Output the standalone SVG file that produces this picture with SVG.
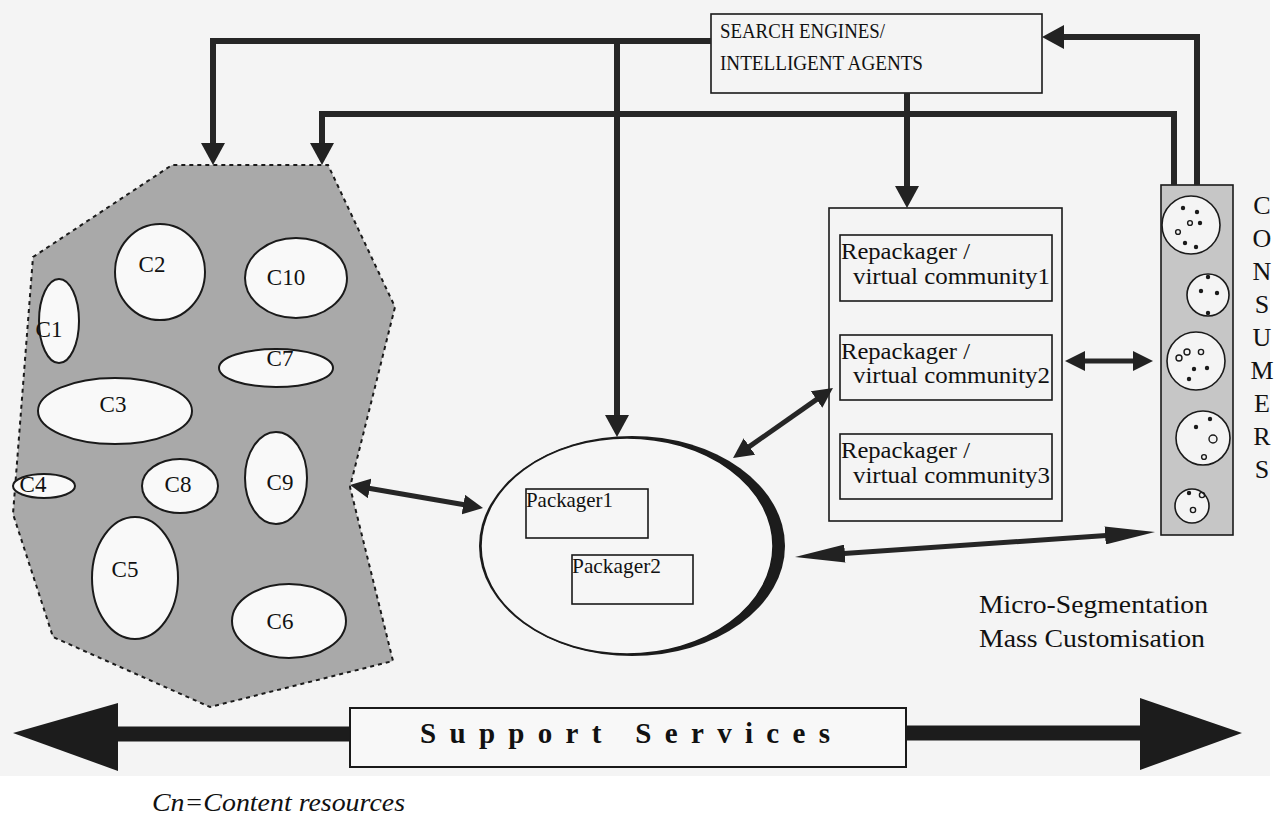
<svg xmlns="http://www.w3.org/2000/svg" width="1282" height="819" viewBox="0 0 1282 819">
  <style>
    text { font-family: "Liberation Serif", serif; fill: #111; }
    .conn { fill: none; stroke: #262626; stroke-width: 6; stroke-linejoin: miter; }
    .conn-thin { fill: none; stroke: #262626; stroke-width: 5; }
    .box { fill: none; stroke: #1a1a1a; stroke-width: 1.6; }
    .res { fill: #f9f9f9; stroke: #1a1a1a; stroke-width: 2; }
    .cust { fill: #f4f4f4; stroke: #1a1a1a; stroke-width: 1.6; }
    .dot { fill: #1a1a1a; }
    .ring { fill: none; stroke: #1a1a1a; stroke-width: 1.4; }
  </style>
  <defs>
    <marker id="ah" markerUnits="userSpaceOnUse" viewBox="0 0 22 24" markerWidth="22" markerHeight="24" refX="1" refY="12" orient="auto-start-reverse">
      <path d="M0,0 L22,12 L0,24 Z" fill="#222"/>
    </marker>
    <marker id="ah2" markerUnits="userSpaceOnUse" viewBox="0 0 20 20" markerWidth="20" markerHeight="20" refX="1" refY="10" orient="auto-start-reverse">
      <path d="M0,0 L20,10 L0,20 Z" fill="#222"/>
    </marker>
    <marker id="ahl" markerUnits="userSpaceOnUse" viewBox="0 0 50 18" markerWidth="50" markerHeight="18" refX="1" refY="9" orient="auto-start-reverse">
      <path d="M0,0 L50,9 L0,18 Z" fill="#222"/>
    </marker>
  </defs>

  <!-- paper -->
  <rect x="0" y="0" width="1282" height="819" fill="#ffffff"/>
  <rect x="0" y="0" width="1270" height="776" fill="#f4f4f4"/>

  <g font-family="Liberation Serif, serif">
  <!-- content resource pool -->
  <g id="content-pool">
    <polygon points="33,257 172,165 328,165 395,307 350,487 393,661 210,707 53,637 13,514"
             fill="#a9a9a9" stroke="#1a1a1a" stroke-width="2" stroke-dasharray="4 4"/>
    <g id="c1"><ellipse class="res" cx="59" cy="321" rx="20" ry="42"/><text x="49" y="337" font-size="23" text-anchor="middle">C1</text></g>
    <g id="c2"><ellipse class="res" cx="160" cy="272" rx="45" ry="48"/><text x="152" y="272" font-size="23" text-anchor="middle">C2</text></g>
    <g id="c10"><ellipse class="res" cx="296" cy="278" rx="51" ry="40"/><text x="286" y="285" font-size="23" text-anchor="middle">C10</text></g>
    <g id="c7"><ellipse class="res" cx="276" cy="368" rx="57" ry="19"/><text x="280" y="366" font-size="23" text-anchor="middle">C7</text></g>
    <g id="c3"><ellipse class="res" cx="115" cy="411" rx="77" ry="33"/><text x="113" y="412" font-size="23" text-anchor="middle">C3</text></g>
    <g id="c4"><ellipse class="res" cx="44" cy="486" rx="31" ry="12"/><text x="33" y="492" font-size="23" text-anchor="middle">C4</text></g>
    <g id="c8"><ellipse class="res" cx="180" cy="486" rx="38" ry="27"/><text x="178" y="492" font-size="23" text-anchor="middle">C8</text></g>
    <g id="c9"><ellipse class="res" cx="276" cy="478" rx="31" ry="46"/><text x="280" y="490" font-size="23" text-anchor="middle">C9</text></g>
    <g id="c5"><ellipse class="res" cx="135" cy="578" rx="43" ry="61"/><text x="125" y="577" font-size="23" text-anchor="middle">C5</text></g>
    <g id="c6"><ellipse class="res" cx="289" cy="621" rx="57" ry="37"/><text x="280" y="629" font-size="23" text-anchor="middle">C6</text></g>
  </g>

  <!-- search engines -->
  <g id="search-engines">
    <rect class="box" x="711" y="14" width="331" height="79" fill="#f7f7f7" stroke-width="2"/>
    <text x="720" y="38" font-size="20" textLength="165" lengthAdjust="spacingAndGlyphs">SEARCH ENGINES/</text>
    <text x="720" y="70" font-size="20" textLength="203" lengthAdjust="spacingAndGlyphs">INTELLIGENT AGENTS</text>
  </g>

  <!-- packagers -->
  <g id="packagers">
    <ellipse cx="632" cy="546" rx="153" ry="110" fill="#1c1c1c"/>
    <ellipse cx="627" cy="546" rx="146" ry="108" fill="#f6f6f6" stroke="#1a1a1a" stroke-width="1.5"/>
    <g id="packager1">
      <rect class="box" x="526" y="489" width="122" height="49"/>
      <text x="526" y="507" font-size="21" textLength="87" lengthAdjust="spacingAndGlyphs">Packager1</text>
    </g>
    <g id="packager2">
      <rect class="box" x="572" y="555" width="121" height="49"/>
      <text x="572" y="573" font-size="21" textLength="89" lengthAdjust="spacingAndGlyphs">Packager2</text>
    </g>
  </g>

  <!-- repackagers -->
  <g id="repackagers">
    <rect class="box" x="829" y="208" width="233" height="313"/>
    <g id="repackager1">
      <rect class="box" x="840" y="235" width="212" height="66"/>
      <text x="841" y="259" font-size="24" textLength="129" lengthAdjust="spacingAndGlyphs">Repackager /</text>
      <text x="853" y="284" font-size="24" textLength="197" lengthAdjust="spacingAndGlyphs">virtual community1</text>
    </g>
    <g id="repackager2">
      <rect class="box" x="840" y="335" width="212" height="65"/>
      <text x="841" y="359" font-size="24" textLength="129" lengthAdjust="spacingAndGlyphs">Repackager /</text>
      <text x="853" y="383" font-size="24" textLength="197" lengthAdjust="spacingAndGlyphs">virtual community2</text>
    </g>
    <g id="repackager3">
      <rect class="box" x="840" y="434" width="212" height="65"/>
      <text x="841" y="458" font-size="24" textLength="129" lengthAdjust="spacingAndGlyphs">Repackager /</text>
      <text x="853" y="483" font-size="24" textLength="197" lengthAdjust="spacingAndGlyphs">virtual community3</text>
    </g>
  </g>

  <!-- consumers -->
  <g id="consumers">
    <rect x="1161" y="185" width="72" height="350" fill="#c6c6c6" stroke="#1a1a1a" stroke-width="1.6"/>
    <g id="segment1">
      <circle class="cust" cx="1191" cy="225" r="29"/>
      <circle class="dot" cx="1183" cy="208" r="2.2"/><circle class="dot" cx="1197" cy="212" r="2.2"/>
      <circle class="ring" cx="1190" cy="223" r="2.4"/><circle class="dot" cx="1200" cy="223" r="2.2"/>
      <circle class="ring" cx="1178" cy="232" r="2.4"/><circle class="dot" cx="1185" cy="243" r="2.2"/>
      <circle class="dot" cx="1196" cy="247" r="2.2"/>
    </g>
    <g id="segment2">
      <circle class="cust" cx="1208" cy="295" r="21"/>
      <circle class="dot" cx="1208" cy="277" r="2.2"/><circle class="dot" cx="1201" cy="291" r="2.2"/>
      <circle class="dot" cx="1217" cy="293" r="2.2"/><circle class="dot" cx="1208" cy="313" r="2.2"/>
    </g>
    <g id="segment3">
      <circle class="cust" cx="1196" cy="361" r="29"/>
      <circle class="ring" cx="1179" cy="358" r="3"/><circle class="ring" cx="1187" cy="352" r="3"/>
      <circle class="ring" cx="1201" cy="352" r="2.6"/><circle class="dot" cx="1194" cy="369" r="2.2"/>
      <circle class="dot" cx="1207" cy="368" r="2.2"/><circle class="dot" cx="1189" cy="379" r="2.2"/>
    </g>
    <g id="segment4">
      <circle class="cust" cx="1203" cy="438" r="27"/>
      <circle class="dot" cx="1210" cy="419" r="2.2"/><circle class="dot" cx="1196" cy="427" r="2.2"/>
      <circle class="ring" cx="1213" cy="439" r="4"/><circle class="ring" cx="1204" cy="457" r="2.4"/>
    </g>
    <g id="segment5">
      <circle class="cust" cx="1192" cy="506" r="17"/>
      <circle class="dot" cx="1189" cy="493" r="2.2"/><circle class="ring" cx="1202" cy="495" r="2.6"/>
      <circle class="ring" cx="1193" cy="510" r="2.6"/>
    </g>
    <g id="consumers-label" font-size="26" text-anchor="middle">
      <text x="1262" y="214">C</text>
      <text x="1262" y="247">O</text>
      <text x="1262" y="280">N</text>
      <text x="1262" y="313">S</text>
      <text x="1262" y="346">U</text>
      <text x="1262" y="379">M</text>
      <text x="1262" y="412">E</text>
      <text x="1262" y="445">R</text>
      <text x="1262" y="478">S</text>
    </g>
  </g>

  <!-- connectors -->
  <g id="connectors">
    <path class="conn" d="M711,41 H213 V144" marker-end="url(#ah)"/>
    <path class="conn" d="M617,41 V416" marker-end="url(#ah)"/>
    <path class="conn" d="M1174,185 V114 H322 V144" marker-end="url(#ah)"/>
    <path class="conn" d="M907,93 V187" marker-end="url(#ah)"/>
    <path class="conn" d="M1197,185 V37 H1063" marker-end="url(#ah)"/>
    <path class="conn-thin" d="M368.7,488.2 L464.3,504.8" marker-start="url(#ah2)" marker-end="url(#ah2)"/>
    <path class="conn-thin" d="M748.6,447.1 L817.4,398.9" marker-start="url(#ah2)" marker-end="url(#ah2)"/>
    <path class="conn-thin" d="M1084,361 L1134,361" marker-start="url(#ah2)" marker-end="url(#ah2)"/>
    <path class="conn-thin" d="M843.9,553.6 L1106.1,535.4" marker-start="url(#ahl)" marker-end="url(#ahl)"/>
  </g>

  <!-- support services band -->
  <g id="support-services">
    <line x1="116" y1="734" x2="351" y2="734" stroke="#1c1c1c" stroke-width="15"/>
    <polygon points="13,733 118,703 118,771" fill="#1c1c1c"/>
    <line x1="905" y1="733" x2="1142" y2="733" stroke="#1c1c1c" stroke-width="15"/>
    <polygon points="1242,733 1140,698 1140,770" fill="#1c1c1c"/>
    <rect x="350" y="708" width="556" height="59" fill="#f8f8f8" stroke="#1a1a1a" stroke-width="2"/>
    <text x="420" y="743" font-size="29" font-weight="bold" textLength="410" lengthAdjust="spacing">Support Services</text>
  </g>

  <!-- annotations -->
  <g id="annotations">
    <text x="979" y="613" font-size="25" textLength="229" lengthAdjust="spacingAndGlyphs">Micro-Segmentation</text>
    <text x="979" y="647" font-size="25" textLength="226" lengthAdjust="spacingAndGlyphs">Mass Customisation</text>
    <text x="152" y="811" font-size="26" font-style="italic" textLength="253" lengthAdjust="spacingAndGlyphs">Cn=Content resources</text>
  </g>
  </g>
</svg>
